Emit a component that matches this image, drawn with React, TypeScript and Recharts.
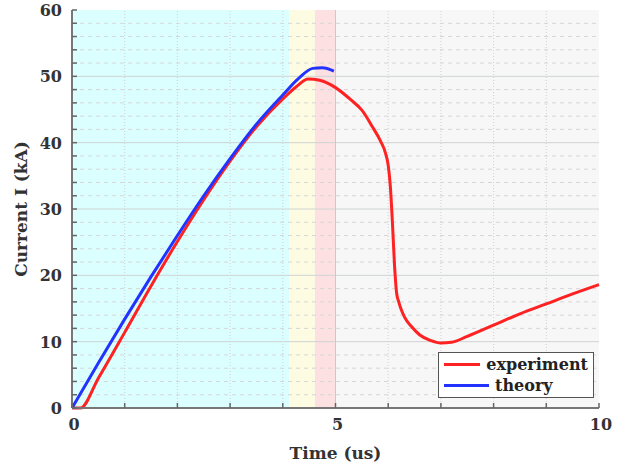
import React from 'react';
import { LineChart, Line, XAxis, YAxis, ReferenceArea, ReferenceLine } from 'recharts';

// theory curve (blue)
const theoryT = [0, 0.5, 1.0, 1.5, 2.0, 2.5, 3.0, 3.5, 4.0, 4.3, 4.57, 4.75, 4.97];
const theoryI = [0, 6.8, 13.4, 19.8, 26.0, 32.0, 37.6, 42.8, 47.2, 49.7, 51.2, 51.3, 50.8];

// experiment curve (red)
const expT = [0, 0.16, 0.5, 1.0, 1.5, 2.0, 2.5, 3.0, 3.5, 4.0, 4.25, 4.48, 4.7, 5.0, 5.3, 5.5, 5.7, 5.85, 5.95, 6.0, 6.04, 6.08, 6.12, 6.16, 6.2, 6.24, 6.31, 6.45, 6.6, 6.8, 7.0, 7.2, 7.5, 8.0, 8.5, 9.0, 9.5, 10.0];
const expI = [0, 0, 4.5, 11.4, 18.4, 25.1, 31.4, 37.2, 42.4, 46.6, 48.4, 49.6, 49.4, 48.3, 46.4, 44.9, 42.4, 40.3, 38.4, 36.6, 33.5, 28, 21.5, 17.3, 16.0, 15.0, 13.7, 12.2, 11.0, 10.2, 9.8, 9.9, 10.8, 12.5, 14.2, 15.7, 17.2, 18.6];

// shaded phases along the time axis
const phaseStart = [0, 4.12, 4.61, 5.0];
const phaseEnd = [4.12, 4.61, 5.0, 10];
const phaseColor = ['#dbffff', '#fdfbe2', '#fde0e2', '#f7f7f7'];

const xTicks = [0, 1, 2, 3, 4, 5, 6, 7, 8, 9, 10];
const xLabeled = [0, 5, 10];
const yTicks = [0, 2, 4, 6, 8, 10, 12, 14, 16, 18, 20, 22, 24, 26, 28, 30, 32, 34, 36, 38, 40, 42, 44, 46, 48, 50, 52, 54, 56, 58, 60];
const yMajor = [10, 20, 30, 40, 50];
const yMinor = yTicks.filter((v) => v % 10 !== 0);
const xMinor = [1, 2, 3, 4, 6, 7, 8, 9];

const seriesNames = ['experiment', 'theory'];
const seriesColors = ['#ff2222', '#2233ff'];

const theory = theoryT.map((t, i) => ({ t, I: theoryI[i] }));
const experiment = expT.map((t, i) => ({ t, I: expI[i] }));

const FONT = 'DejaVu Serif';

const BottomTick = (props: any) => {
  const { x, y, payload } = props;
  const axisY = y - 8;
  const show = xLabeled.includes(payload.value);
  return (
    <g>
      <line x1={x} x2={x} y1={axisY} y2={axisY - 5} stroke="#666" strokeWidth={1.5} />
      {show && (
        <text x={x + 2} y={axisY + 22} textAnchor="middle" fontFamily={FONT} fontWeight="bold" fontSize={16} fill="#333">
          {payload.value}
        </text>
      )}
    </g>
  );
};

const TopTick = (props: any) => {
  const { x, y } = props;
  return <line x1={x} x2={x} y1={y} y2={y + 5} stroke="#888" strokeWidth={1.5} />;
};

const LeftTick = (props: any) => {
  const { x, y, payload } = props;
  const axisX = x + 10;
  const major = payload.value % 10 === 0;
  return (
    <g>
      <line x1={axisX} x2={axisX + 5} y1={y} y2={y} stroke="#666" strokeWidth={1.5} />
      {major && (
        <text x={x} y={y + 6} textAnchor="end" fontFamily={FONT} fontWeight="bold" fontSize={16} fill="#333">
          {payload.value}
        </text>
      )}
    </g>
  );
};

const RightTick = (props: any) => {
  const { x, y } = props;
  return <line x1={x} x2={x - 5} y1={y} y2={y} stroke="#888" strokeWidth={1.5} />;
};

export default function App() {
  return (
    <div style={{ position: 'absolute', left: 0, top: 0, width: 620, height: 464, background: '#fff' }}>
      <LineChart width={620} height={464} margin={{ top: 10, right: 21, bottom: 0, left: 0 }}>
        <XAxis
          xAxisId="b"
          type="number"
          dataKey="t"
          domain={[0, 10]}
          ticks={xTicks}
          interval={0}
          tickLine={false}
          tickSize={0}
          tickMargin={8}
          height={56}
          axisLine={{ stroke: '#777', strokeWidth: 2 }}
          tick={<BottomTick />}
          label={{ value: 'Time (us)', position: 'insideBottom', offset: 5, style: { fontFamily: FONT, fontWeight: 'bold', fontSize: 17, fill: '#333' } }}
        />
        <XAxis
          xAxisId="t"
          orientation="top"
          type="number"
          dataKey="t"
          domain={[0, 10]}
          ticks={xTicks}
          interval={0}
          tickLine={false}
          tickSize={0}
          tickMargin={0}
          height={0}
          axisLine={{ stroke: '#aaa', strokeWidth: 1.5 }}
          tick={<TopTick />}
        />
        <YAxis
          yAxisId="l"
          type="number"
          domain={[0, 60]}
          ticks={yTicks}
          interval={0}
          tickLine={false}
          tickSize={0}
          tickMargin={10}
          width={72}
          axisLine={{ stroke: '#777', strokeWidth: 2 }}
          tick={<LeftTick />}
          label={{ value: 'Current I (kA)', angle: -90, position: 'insideLeft', offset: 21, style: { textAnchor: 'middle', fontFamily: FONT, fontWeight: 'bold', fontSize: 17, fill: '#333' } }}
        />
        <YAxis
          yAxisId="r"
          orientation="right"
          type="number"
          domain={[0, 60]}
          ticks={yTicks}
          interval={0}
          tickLine={false}
          tickSize={0}
          tickMargin={0}
          width={0}
          axisLine={{ stroke: '#aaa', strokeWidth: 1.5 }}
          tick={<RightTick />}
        />
        {phaseStart.map((s, i) => (
          <ReferenceArea key={'p' + i} xAxisId="b" yAxisId="l" x1={s} x2={phaseEnd[i]} y1={0} y2={60} fill={phaseColor[i]} fillOpacity={1} stroke="none" />
        ))}
        {yMinor.map((v) => (
          <ReferenceLine key={'ym' + v} xAxisId="b" yAxisId="l" y={v} stroke="#d6d6d6" strokeDasharray="4 4" strokeWidth={1} />
        ))}
        {xMinor.map((v) => (
          <ReferenceLine key={'xm' + v} xAxisId="b" yAxisId="l" x={v} stroke="#d0d0d0" strokeDasharray="1 2" strokeWidth={1} />
        ))}
        {yMajor.map((v) => (
          <ReferenceLine key={'yM' + v} xAxisId="b" yAxisId="l" y={v} stroke="#cfd4d4" strokeWidth={1} />
        ))}
        <ReferenceLine xAxisId="b" yAxisId="l" x={5} stroke="#d0c8c8" strokeWidth={1} />
        <Line
          xAxisId="b"
          yAxisId="l"
          data={experiment}
          dataKey="I"
          name={seriesNames[0]}
          type="monotone"
          stroke={seriesColors[0]}
          strokeWidth={3}
          dot={false}
          isAnimationActive={false}
        />
        <Line
          xAxisId="b"
          yAxisId="l"
          data={theory}
          dataKey="I"
          name={seriesNames[1]}
          type="monotone"
          stroke={seriesColors[1]}
          strokeWidth={3}
          dot={false}
          isAnimationActive={false}
        />
      </LineChart>
      <div
        style={{
          position: 'absolute',
          left: 438,
          top: 352,
          width: 156,
          height: 46,
          boxSizing: 'border-box',
          border: '1.5px solid #555',
          background: '#fff',
          padding: '1px 5px',
        }}
      >
        {seriesNames.map((n, i) => (
          <div key={n} style={{ display: 'flex', alignItems: 'center', height: 21 }}>
            <div style={{ width: 45, height: 3, background: seriesColors[i], marginRight: 6 }} />
            <span style={{ fontFamily: FONT, fontWeight: 'bold', fontSize: 16, color: '#222' }}>{n}</span>
          </div>
        ))}
      </div>
    </div>
  );
}
